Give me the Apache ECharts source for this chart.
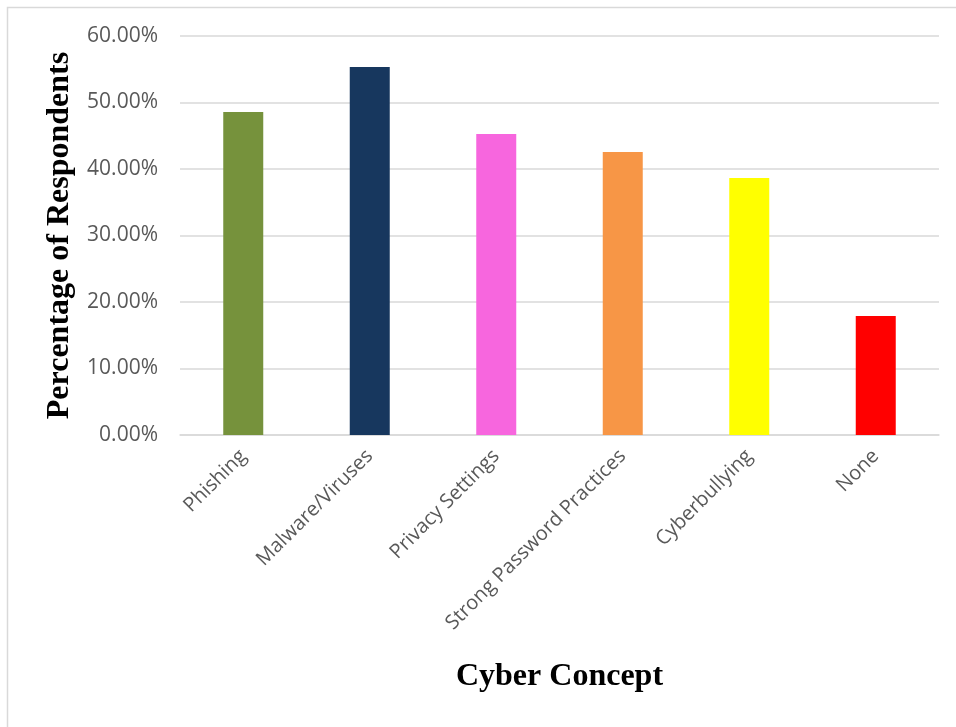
<!DOCTYPE html>
<html>
<head>
<meta charset="utf-8">
<script src="https://cdn.jsdelivr.net/npm/echarts@6/dist/echarts.min.js"></script>
<style>
  html, body { margin: 0; padding: 0; background: #fff; }
  #chart { width: 956px; height: 727px; }
</style>
</head>
<body>
<div id="chart"></div>
<script>
// values
const categories = ['Phishing', 'Malware/Viruses', 'Privacy Settings', 'Strong Password Practices', 'Cyberbullying', 'None']
const percentages = [48.57, 55.34, 45.26, 42.56, 38.65, 17.89]
const barColors = ['#76923C', '#17375E', '#F766DE', '#F79646', '#FFFF00', '#FF0000']

const chart = echarts.init(document.getElementById('chart'))

chart.setOption({
  animation: false,
  graphic: [{
    type: 'rect',
    shape: { x: 7.5, y: 7.5, width: 1000, height: 1000 },
    style: { fill: 'none', stroke: '#d9d9d9', lineWidth: 1.5 },
    silent: true
  }],
  grid: {
    left: 180,
    right: 17,
    top: 36,
    bottom: 292
  },
  xAxis: {
    type: 'category',
    data: categories,
    name: 'Cyber Concept',
    nameLocation: 'middle',
    nameGap: 226,
    nameTextStyle: {
      fontFamily: 'Liberation Serif',
      fontWeight: 'bold',
      fontSize: 32,
      color: '#000'
    },
    axisLine: { lineStyle: { color: '#d9d9d9', width: 1.5 } },
    axisTick: { show: false },
    axisLabel: {
      rotate: 45,
      margin: 18,
      interval: 0,
      fontFamily: 'Open Sans',
      fontSize: 20,
      color: '#595959'
    }
  },
  yAxis: {
    type: 'value',
    min: 0,
    max: 60,
    interval: 10,
    name: 'Percentage of Respondents',
    nameLocation: 'middle',
    nameGap: 98,
    nameTextStyle: {
      fontFamily: 'Liberation Serif',
      fontWeight: 'bold',
      fontSize: 32,
      color: '#000'
    },
    axisLine: { show: false },
    axisTick: { show: false },
    splitLine: { lineStyle: { color: '#d9d9d9', width: 1.5 } },
    axisLabel: {
      margin: 22,
      fontFamily: 'Open Sans',
      fontSize: 21,
      color: '#595959',
      formatter: v => v.toFixed(2) + '%'
    }
  },
  series: [{
    type: 'bar',
    barWidth: 40,
    data: percentages.map((v, i) => ({
      value: v,
      itemStyle: { color: barColors[i] }
    }))
  }]
})
</script>
</body>
</html>
